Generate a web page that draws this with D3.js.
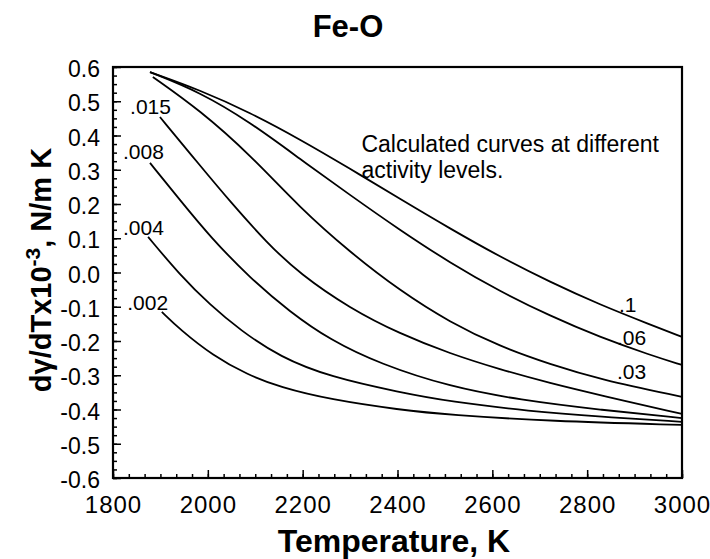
<!DOCTYPE html>
<html><head><meta charset="utf-8">
<script src="https://cdn.jsdelivr.net/npm/d3@7"></script>
<style>
body{margin:0;background:#fff}
svg{display:block}
text{font-family:"Liberation Sans",Arial,Helvetica,sans-serif;fill:#000}
</style>
</head><body>
<svg id="chart" width="710" height="559"></svg>
<script>
// ---- data ----
const title = "Fe-O";
const xTitle = "Temperature, K";
const xTickValues = [1800, 2000, 2200, 2400, 2600, 2800, 3000];
const yTickValues = [0.6, 0.5, 0.4, 0.3, 0.2, 0.1, 0.0, -0.1, -0.2, -0.3, -0.4, -0.5, -0.6];
const activityLevels = [".1", ".06", ".03", ".015", ".008", ".004", ".002"];
const note = ["Calculated curves at different", "activity levels."];

// each curve: [temperature K, dγ/dT x10^-3 N/m K]
const curve_1 = [[1878,0.585],[1983,0.533],[2089,0.467],[2194,0.389],[2300,0.303],[2405,0.215],[2511,0.128],[2616,0.046],[2722,-0.028],[2827,-0.094],[2933,-0.152],[3000,-0.188]];
const curve_06 = [[1878,0.585],[1983,0.527],[2089,0.439],[2194,0.332],[2300,0.226],[2405,0.124],[2511,0.028],[2616,-0.055],[2722,-0.127],[2827,-0.189],[2933,-0.241],[3000,-0.270]];
const curve_03 = [[1884,0.571],[1983,0.474],[2089,0.344],[2194,0.189],[2300,0.059],[2405,-0.053],[2511,-0.146],[2616,-0.216],[2722,-0.268],[2827,-0.312],[3000,-0.363]];
const curve_015 = [[1899,0.454],[1983,0.313],[2047,0.207],[2125,0.086],[2194,-0.004],[2300,-0.105],[2405,-0.179],[2511,-0.237],[2616,-0.283],[2722,-0.323],[2827,-0.358],[3000,-0.413]];
const curve_008 = [[1878,0.320],[1941,0.212],[2005,0.104],[2089,-0.016],[2173,-0.115],[2258,-0.197],[2363,-0.267],[2511,-0.334],[2658,-0.372],[2827,-0.401],[3000,-0.425]];
const curve_004 = [[1874,0.104],[1941,-0.007],[2005,-0.095],[2068,-0.168],[2152,-0.247],[2258,-0.305],[2405,-0.350],[2511,-0.377],[2679,-0.405],[2827,-0.421],[3000,-0.436]];
const curve_002 = [[1903,-0.115],[1941,-0.166],[2011,-0.243],[2083,-0.298],[2152,-0.335],[2258,-0.371],[2405,-0.401],[2511,-0.416],[2722,-0.434],[3000,-0.445]];
const curves = [curve_1, curve_06, curve_03, curve_015, curve_008, curve_004, curve_002];

// label anchor for each curve label (data units), same order as activityLevels
const labelT = [2867, 2863, 2863, 1836, 1821, 1821, 1830];
const labelV = [-0.114, -0.212, -0.310, 0.463, 0.331, 0.109, -0.110];

// ---- layout ----
const svg = d3.select("#chart");
const L = 113, R = 682, T = 67, B = 478;
const x = d3.scaleLinear().domain([1800, 3000]).range([L, R]);
const y = d3.scaleLinear().domain([-0.6, 0.6]).range([B, T]);

// minor ticks
svg.append("g").attr("transform", `translate(0,${B})`)
  .call(d3.axisBottom(x).tickValues(d3.range(0, 37).map(i => 1800 + i * 200 / 6)).tickSize(-4).tickFormat(""))
  .call(g => g.select(".domain").remove())
  .selectAll("line").attr("stroke", "#000").attr("stroke-width", 1.5);
svg.append("g").attr("transform", `translate(${L},0)`)
  .call(d3.axisLeft(y).tickValues(d3.range(0, 49).map(i => -0.6 + i * 0.025)).tickSize(-4).tickFormat(""))
  .call(g => g.select(".domain").remove())
  .selectAll("line").attr("stroke", "#000").attr("stroke-width", 1.5);

// major ticks + labels
const xAxis = svg.append("g").attr("transform", `translate(0,${B})`)
  .call(d3.axisBottom(x).tickValues(xTickValues).tickSize(-8).tickPadding(18).tickFormat(d => String(d)));
xAxis.select(".domain").remove();
xAxis.selectAll("line").attr("stroke", "#000").attr("stroke-width", 1.5);
xAxis.selectAll("text").attr("font-size", 24).attr("font-family", null).style("letter-spacing", "1px");

const yAxis = svg.append("g").attr("transform", `translate(${L},0)`)
  .call(d3.axisLeft(y).tickValues(yTickValues).tickSize(-8).tickPadding(13).tickFormat(d => d.toFixed(1)));
yAxis.select(".domain").remove();
yAxis.selectAll("line").attr("stroke", "#000").attr("stroke-width", 1.5);
yAxis.selectAll("text").attr("font-size", 23).attr("font-family", null).attr("dy", "0.42em");

// frame
svg.append("rect").attr("x", L).attr("y", T).attr("width", R - L).attr("height", B - T)
  .attr("fill", "none").attr("stroke", "#000").attr("stroke-width", 2.2);

// curves
const line = d3.line().x(d => x(d[0])).y(d => y(d[1])).curve(d3.curveBasis);
svg.append("g").selectAll("path").data(curves).join("path")
  .attr("d", line).attr("fill", "none").attr("stroke", "#000").attr("stroke-width", 1.8);

// curve labels
svg.append("g").selectAll("text").data(activityLevels).join("text")
  .attr("x", (d, i) => x(labelT[i])).attr("y", (d, i) => y(labelV[i]))
  .attr("font-size", 21).text(d => d);

// note
svg.append("g").selectAll("text").data(note).join("text")
  .attr("x", x(2324)).attr("y", (d, i) => y(0.353) + i * 26)
  .attr("font-size", 23).text(d => d);

// titles
svg.append("text").attr("x", 348).attr("y", 37).attr("text-anchor", "middle")
  .attr("font-size", 31).attr("font-weight", "bold").text(title);
svg.append("text").attr("x", 394).attr("y", 552).attr("text-anchor", "middle")
  .attr("font-size", 32).attr("font-weight", "bold").text(xTitle);
const yt = svg.append("text").attr("transform", "translate(51,270) rotate(-90)")
  .attr("text-anchor", "middle").attr("font-size", 29).attr("font-weight", "bold");
yt.append("tspan").text("dγ/dTx10");
yt.append("tspan").attr("font-size", 21).attr("dy", -11).text("-3");
yt.append("tspan").attr("dy", 11).text(", N/m K");
</script>
</body></html>
